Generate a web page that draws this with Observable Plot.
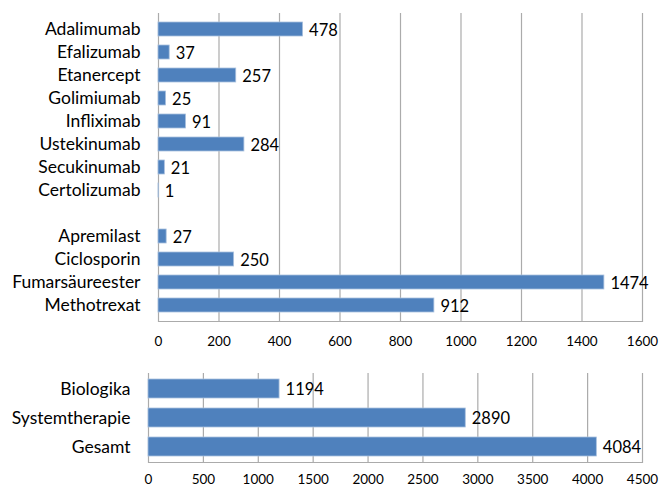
<!DOCTYPE html>
<html><head><meta charset="utf-8">
<script src="https://cdn.jsdelivr.net/npm/d3@7"></script>
<script src="https://cdn.jsdelivr.net/npm/@observablehq/plot@0.6"></script>
<style>
body{margin:0;background:#fff;}
#wrap{position:relative;width:660px;height:486px;font-family:Lato,"Open Sans",sans-serif;}
#top,#bot{position:absolute;left:0;}
#top{top:0;} #bot{top:355px;}
</style></head><body>
<div id="wrap"><div id="top"></div><div id="bot"></div></div>
<script>
const biologika = ["Adalimumab","Efalizumab","Etanercept","Golimiumab","Infliximab","Ustekinumab","Secukinumab","Certolizumab"];
const biologikaValues = [478,37,257,25,91,284,21,1];
const systemisch = ["Apremilast","Ciclosporin","Fumarsäureester","Methotrexat"];
const systemischValues = [27,250,1474,912];
const topTicks = [0,200,400,600,800,1000,1200,1400,1600];

const summary = ["Biologika","Systemtherapie","Gesamt"];
const summaryValues = [1194,2890,4084];
const botTicks = [0,500,1000,1500,2000,2500,3000,3500,4000,4500];

const blue = "#4F81BD", grid = "#ababab";
const topData = biologika.map((c,i)=>({c, v: biologikaValues[i]}))
  .concat(systemisch.map((c,i)=>({c, v: systemischValues[i]})));
const topDomain = [...biologika, "", ...systemisch];
const botData = summary.map((c,i)=>({c, v: summaryValues[i]}));

function panel({data, domain, ticks, height, marginTop, marginBottom, marginLeft, padding, tickPad}) {
  return Plot.plot({
    width: 660, height, marginTop, marginBottom, marginLeft, marginRight: 18,
    style: {fontFamily: "Lato, 'Open Sans', sans-serif", color: "#000", background: "#fff"},
    x: {domain: [ticks[0], ticks[ticks.length-1]], ticks, tickSize: 0, tickPadding: tickPad, label: null, tickFormat: d => String(d)},
    y: {domain, paddingInner: padding, paddingOuter: padding / 2, tickSize: 0, tickPadding: 18, label: null},
    marks: [
      Plot.ruleX(ticks, {stroke: grid, strokeWidth: 1.2}),
      Plot.frame({anchor: "bottom", stroke: grid, strokeWidth: 1.2}),
      Plot.barX(data, {x: "v", y: "c", fill: blue, stroke: "#a9c0de", strokeWidth: 0.8}),
      Plot.text(data, {x: "v", y: "c", text: d => String(d.v), dx: 6, dy: 1, textAnchor: "start", fontSize: 16.5, fill: "#000"}),
      Plot.axisY({tickSize: 0, tickPadding: 18, fontSize: 17.5, tickFormat: d => d, fill: "#000"}),
      Plot.axisX({ticks, tickSize: 0, tickPadding: tickPad, fontSize: 13.5, tickFormat: d => String(d), fill: "#000"})
    ]
  });
}

document.getElementById("top").appendChild(panel({
  data: topData, domain: topDomain, ticks: topTicks,
  height: 352, marginTop: 13, marginBottom: 31, marginLeft: 158, padding: 0.4, tickPad: 15
}));
document.getElementById("bot").appendChild(panel({
  data: botData, domain: summary, ticks: botTicks,
  height: 131, marginTop: 18, marginBottom: 24, marginLeft: 148, padding: 0.34, tickPad: 12
}));
</script></body></html>
